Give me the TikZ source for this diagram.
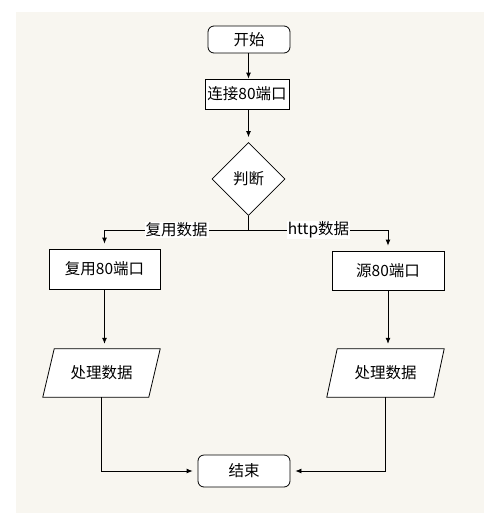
\documentclass[tikz,border=0pt]{standalone}
\usepackage{fontspec}
\setmainfont{Noto Sans CJK SC}
\usetikzlibrary{arrows.meta,shapes.geometric}
\definecolor{bgbeige}{HTML}{F8F6F0}
\tikzset{
  txt/.style={font=\fontsize{15.5}{17}\selectfont},
  flowline/.style={line width=0.8pt,-{Latex[length=6pt,width=5pt]}},
  gapped/.style={shorten >=5pt},
  term/.style={txt,draw,line width=0.8pt,fill=white,rounded corners=6pt,inner sep=0pt},
  procbox/.style={txt,draw,line width=0.8pt,fill=white,inner sep=0pt},
  decbox/.style={txt,draw,line width=0.8pt,fill=white,diamond,inner sep=0pt,minimum width=73pt,minimum height=73pt},
  iobox/.style={txt,inner sep=0pt,minimum width=117pt,minimum height=48pt},
  lbl/.style={txt,fill=white,inner sep=1pt}
}
\begin{document}
\begin{tikzpicture}[x=1pt,y=-1pt]
\useasboundingbox (0,0) rectangle (495,523);
\fill[bgbeige] (16,12) rectangle (484,513);
% nodes
\node[term,minimum width=82pt,minimum height=27pt] (start) at (249,39.5) {开始};
\node[procbox,minimum width=84pt,minimum height=30pt] (conn) at (247,94) {连接80端口};
\node[decbox] (dec) at (248.5,179) {判断};
\node[procbox,minimum width=111pt,minimum height=40pt] (reuse) at (104.5,269) {复用80端口};
\node[procbox,minimum width=112pt,minimum height=39pt] (src) at (388,270.5) {源80端口};
% parallelograms
\node[iobox] (p1) at (101.5,373) {};
\draw[line width=0.8pt,fill=white] (p1.south west) -- ++(106,0) -- (p1.north east) -- ++(-106,0) -- cycle;
\node[iobox] at (p1) {处理数据};
\node[iobox] (p2) at (385.5,373) {};
\draw[line width=0.8pt,fill=white] (p2.south west) -- ++(107,0) -- (p2.north east) -- ++(-107,0) -- cycle;
\node[iobox] at (p2) {处理数据};
\node[term,minimum width=92pt,minimum height=32pt] (end) at (244,471) {结束};
\coordinate (br) at (248.5,230);
% connectors
\draw[flowline] (dec.north |- start.south) -- (dec.north |- conn.north);
\draw[flowline,gapped] (conn.south -| dec.north) -- (dec.north);
\draw[line width=0.8pt] (dec.south) -- (br);
\draw[flowline,gapped] (br) -| (reuse.north);
\draw[flowline,gapped] (br) -| (src.north);
\node[lbl] (l1) at (176.5,230) {复用数据};
\node[lbl] (l2) at (318.5,230) {http数据};
\draw[flowline,gapped] (reuse.south) -- (reuse.south |- p1.north);
\draw[flowline,gapped] (src.south) -- (src.south |- p2.north);
\draw[flowline,gapped] (p1.south) |- (end.west);
\draw[flowline,gapped] (p2.south) |- (end.east);
\end{tikzpicture}
\end{document}
